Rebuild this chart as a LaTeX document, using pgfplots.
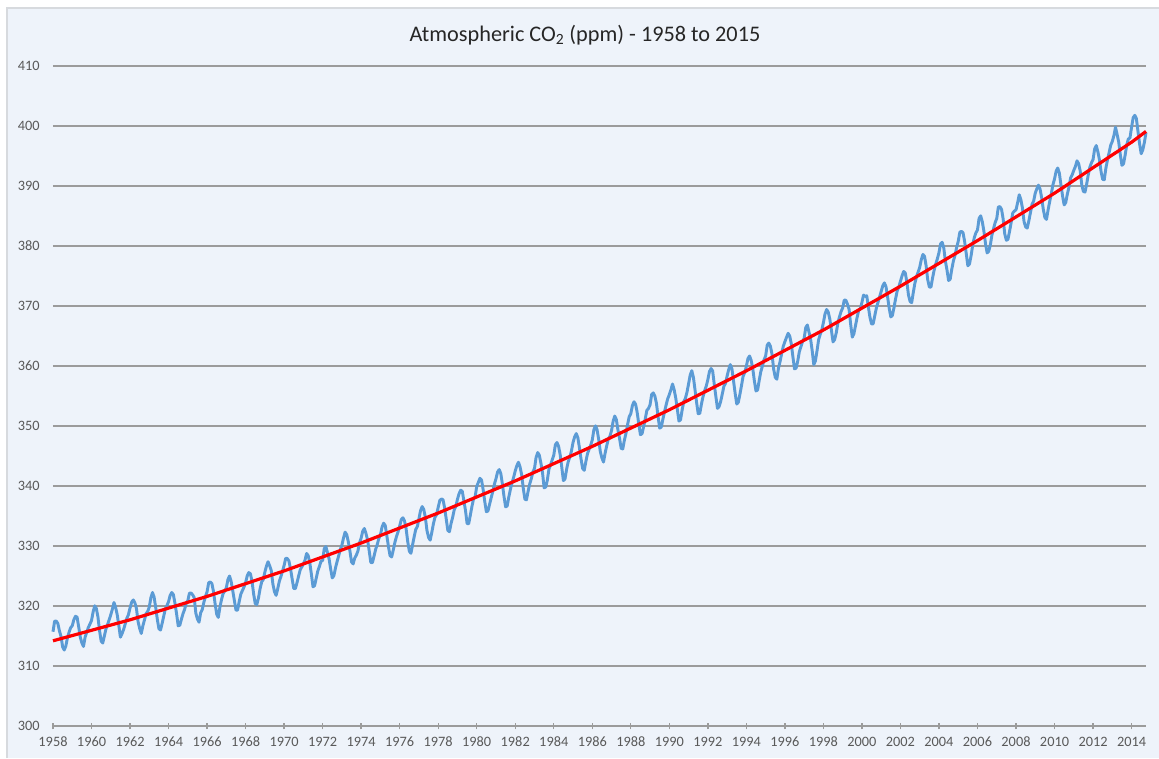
\documentclass[border=0pt]{standalone}
\usepackage{fontspec}
\setmainfont{Carlito}
\usepackage{pgfplots}
\pgfplotsset{compat=1.18}
\definecolor{bgblue}{RGB}{238,243,250}
\definecolor{co2blue}{RGB}{91,155,213}
\definecolor{gridgray}{RGB}{155,155,155}
\definecolor{labelgray}{RGB}{89,89,89}
\definecolor{framegray}{RGB}{215,218,222}

\begin{document}
\begin{tikzpicture}
% chart background (1px = 0.75pt, axis origin at pixel 53,726)
\fill[white] (-39.75pt,-24pt) rectangle (829.5pt,544.5pt);
\fill[bgblue] (-34.5pt,-24pt) rectangle (829.5pt,538.5pt);
\draw[framegray, line width=0.8pt] (-34.5pt,-24pt) -- (-34.5pt,538.5pt) -- (829.5pt,538.5pt);

\begin{axis}[
    at={(0,0)}, anchor=south west,
    scale only axis,
    width=819.75pt, height=495pt,
    xmin=1958, xmax=2014.75,
    ymin=300, ymax=410,
    xtick={1958,1960,...,2014},
    ytick={300,310,...,410},
    /pgf/number format/set thousands separator={},
    /pgf/number format/assume math mode=true,
    ticklabel style={font=\fontsize{10.75}{12}\selectfont, text=labelgray},
    axis x line*=bottom,
    axis y line*=left,
    x axis line style={gridgray, line width=1.6pt, -},
    y axis line style={draw=none},
    xtick pos=bottom,
    tick align=center,
    major tick length=5pt,
    x tick style={gridgray, line width=1pt},
    y tick style={draw=none},
    yticklabel style={xshift=-4pt},
    xticklabel style={yshift=-2pt},
    ymajorgrids=true,
    grid style={gridgray, line width=1.6pt},
    clip=false,
]

% monthly Mauna Loa CO2, Mar 1958 - Dec 2014
\addplot[co2blue, line width=2.2pt, line join=round] table[row sep=\\, header=false, x expr=1958+\coordindex/12, y index=0] {
315.71\\317.45\\317.50\\317.10\\315.86\\314.93\\313.20\\312.66\\313.33\\314.67\\
315.62\\316.38\\316.71\\317.72\\318.29\\318.15\\316.54\\314.80\\313.84\\313.26\\314.80\\315.58\\
316.43\\316.97\\317.58\\319.02\\320.03\\319.59\\318.18\\315.91\\314.16\\313.83\\315.00\\316.19\\
316.93\\317.70\\318.54\\319.48\\320.58\\319.77\\318.57\\316.79\\314.80\\315.38\\316.10\\317.01\\
317.94\\318.56\\319.68\\320.63\\321.01\\320.55\\319.58\\317.40\\316.26\\315.42\\316.69\\317.69\\
318.74\\319.08\\319.86\\321.39\\322.25\\321.47\\319.74\\317.77\\316.21\\315.99\\317.12\\318.31\\
319.57\\320.07\\320.73\\321.77\\322.25\\321.89\\320.44\\318.70\\316.70\\316.79\\317.79\\318.71\\
319.44\\320.44\\320.89\\322.13\\322.16\\321.87\\321.39\\318.80\\317.81\\317.30\\318.87\\319.42\\
320.62\\321.59\\322.39\\323.87\\324.01\\323.75\\322.39\\320.37\\318.64\\318.10\\319.79\\321.08\\
322.07\\322.50\\323.04\\324.42\\325.00\\324.09\\322.55\\320.92\\319.31\\319.31\\320.72\\321.96\\
322.57\\323.15\\323.89\\325.02\\325.57\\325.36\\324.14\\322.03\\320.41\\320.25\\321.31\\322.84\\
324.00\\324.42\\325.64\\326.66\\327.38\\326.70\\325.89\\323.67\\322.38\\321.78\\322.85\\324.11\\
324.89\\325.82\\326.77\\327.97\\327.91\\327.50\\326.18\\324.53\\322.93\\322.90\\323.85\\324.96\\
326.01\\326.51\\327.01\\327.62\\328.76\\328.40\\327.20\\325.27\\323.20\\323.40\\324.63\\325.85\\
326.60\\327.47\\327.58\\329.56\\329.90\\328.92\\327.88\\326.16\\324.68\\325.04\\326.34\\327.39\\
328.37\\329.40\\330.14\\331.33\\332.31\\331.90\\330.70\\329.15\\327.35\\327.02\\327.99\\328.48\\
329.18\\330.55\\331.32\\332.48\\332.92\\332.08\\331.01\\329.23\\327.27\\327.21\\328.29\\329.41\\
330.23\\331.25\\331.87\\333.14\\333.80\\333.43\\331.73\\329.90\\328.40\\328.17\\329.32\\330.59\\
331.58\\332.39\\333.33\\334.41\\334.71\\334.17\\332.89\\330.77\\329.14\\328.78\\330.14\\331.52\\
332.75\\333.24\\334.53\\335.90\\336.57\\336.10\\334.76\\332.59\\331.42\\330.98\\332.24\\333.68\\
334.80\\335.22\\336.47\\337.59\\337.84\\337.72\\336.37\\334.51\\332.60\\332.38\\333.75\\334.78\\
336.05\\336.59\\337.79\\338.71\\339.30\\339.12\\337.56\\335.92\\333.75\\333.70\\335.12\\336.56\\
337.84\\338.19\\339.91\\340.60\\341.29\\341.00\\339.39\\337.43\\335.72\\335.84\\336.93\\338.04\\
339.06\\340.30\\341.21\\342.33\\342.74\\342.08\\340.32\\338.26\\336.52\\336.68\\338.19\\339.44\\
340.57\\341.44\\342.53\\343.39\\343.96\\343.18\\341.88\\339.65\\337.81\\337.69\\339.09\\340.32\\
341.20\\342.35\\342.93\\344.77\\345.58\\345.14\\343.81\\342.21\\339.69\\339.82\\340.98\\342.82\\
343.52\\344.33\\345.11\\346.88\\347.25\\346.62\\345.22\\343.11\\340.90\\341.18\\342.80\\344.04\\
344.79\\345.82\\347.25\\348.17\\348.74\\348.07\\346.38\\344.51\\342.92\\342.62\\344.06\\345.38\\
346.11\\346.78\\347.68\\349.37\\350.03\\349.37\\347.76\\345.73\\344.68\\343.99\\345.48\\346.72\\
347.84\\348.29\\349.23\\350.80\\351.66\\351.07\\349.33\\347.92\\346.27\\346.18\\347.64\\348.78\\
350.25\\351.54\\352.05\\353.41\\354.04\\353.62\\352.22\\350.27\\348.55\\348.72\\349.91\\351.18\\
352.60\\352.92\\353.53\\355.26\\355.52\\354.97\\353.75\\351.52\\349.64\\349.83\\351.14\\352.37\\
353.50\\354.55\\355.23\\356.04\\357.00\\356.07\\354.67\\352.76\\350.82\\351.04\\352.69\\354.07\\
354.59\\355.63\\357.03\\358.48\\359.22\\358.12\\356.06\\353.92\\352.05\\352.11\\353.64\\354.89\\
355.88\\356.63\\357.72\\359.07\\359.58\\359.17\\356.94\\354.92\\352.94\\353.23\\354.09\\355.33\\
356.63\\357.10\\358.32\\359.41\\360.23\\359.55\\357.53\\355.48\\353.67\\353.95\\355.30\\356.78\\
358.34\\358.89\\359.95\\361.25\\361.67\\360.94\\359.55\\357.49\\355.84\\356.00\\357.59\\359.05\\
359.98\\361.03\\361.66\\363.48\\363.82\\363.30\\361.94\\359.50\\358.11\\357.80\\359.61\\360.74\\
362.09\\363.29\\364.06\\364.76\\365.45\\365.01\\363.70\\361.54\\359.51\\359.65\\360.80\\362.38\\
363.23\\364.06\\364.61\\366.40\\366.84\\365.68\\364.52\\362.57\\360.24\\360.83\\362.49\\364.34\\
365.27\\365.98\\367.24\\368.66\\369.42\\368.99\\367.82\\365.95\\364.02\\364.40\\365.52\\367.13\\
368.18\\369.07\\369.68\\370.99\\370.96\\370.30\\369.45\\366.90\\364.81\\365.37\\366.72\\368.10\\
369.29\\369.54\\370.60\\371.82\\371.58\\371.70\\369.86\\368.13\\367.00\\367.03\\368.37\\369.67\\
370.59\\371.51\\372.43\\373.37\\373.85\\373.21\\371.51\\369.61\\368.18\\368.45\\369.76\\371.24\\
372.53\\373.20\\374.12\\375.02\\375.76\\375.52\\374.01\\371.85\\370.75\\370.55\\372.25\\373.79\\
374.88\\375.64\\376.45\\377.73\\378.60\\378.28\\376.70\\374.38\\373.17\\373.14\\374.66\\375.99\\
377.00\\377.87\\378.88\\380.35\\380.62\\379.69\\377.47\\376.01\\374.25\\374.46\\376.16\\377.51\\
378.46\\379.73\\380.77\\382.29\\382.45\\382.21\\380.74\\378.74\\376.70\\377.00\\378.35\\380.11\\
381.38\\382.19\\382.67\\384.61\\385.03\\384.05\\382.46\\380.41\\378.85\\379.13\\380.15\\381.82\\
382.89\\383.90\\384.58\\386.50\\386.56\\386.10\\384.50\\381.99\\380.96\\381.12\\382.45\\383.95\\
385.52\\385.82\\386.03\\387.21\\388.54\\387.76\\386.36\\384.09\\383.18\\382.99\\384.19\\385.56\\
386.94\\387.48\\388.82\\389.55\\390.14\\389.48\\388.03\\386.11\\384.74\\384.43\\386.02\\387.42\\
388.71\\390.20\\391.17\\392.46\\393.00\\392.15\\390.20\\388.35\\386.85\\387.24\\388.67\\389.79\\
391.33\\391.86\\392.60\\393.25\\394.19\\393.74\\392.51\\390.13\\389.08\\389.00\\390.28\\391.86\\
393.12\\393.86\\394.40\\396.18\\396.74\\395.71\\394.36\\392.39\\391.11\\391.05\\392.98\\394.34\\
395.55\\396.80\\397.43\\398.41\\399.78\\398.60\\397.32\\395.20\\393.45\\393.70\\395.16\\396.84\\
397.85\\398.01\\399.77\\401.38\\401.78\\401.25\\399.10\\397.03\\395.38\\396.03\\397.28\\398.91\\
};

% trend line
\addplot[red, line width=2.4pt] coordinates {
    (1958,314.2) (1962,317.7) (1966,321.6) (1970,325.85) (1974,330.5)
    (1978,335.5) (1982,340.85) (1986,346.6) (1990,352.7) (1994,359.2)
    (1998,366.0) (2002,373.3) (2006,380.9) (2010,388.8) (2014,397.3)
    (2014.75,399.1)
};
\end{axis}

\node[font=\fontsize{16.7}{20}\selectfont, text={rgb,255:red,38;green,38;blue,38}] at (399pt,518.25pt) {Atmospheric CO\textsubscript{2} (ppm) - 1958 to 2015};

\pgfresetboundingbox
\useasboundingbox (-39.75pt,-24pt) rectangle (829.5pt,544.5pt);
\end{tikzpicture}
\end{document}
